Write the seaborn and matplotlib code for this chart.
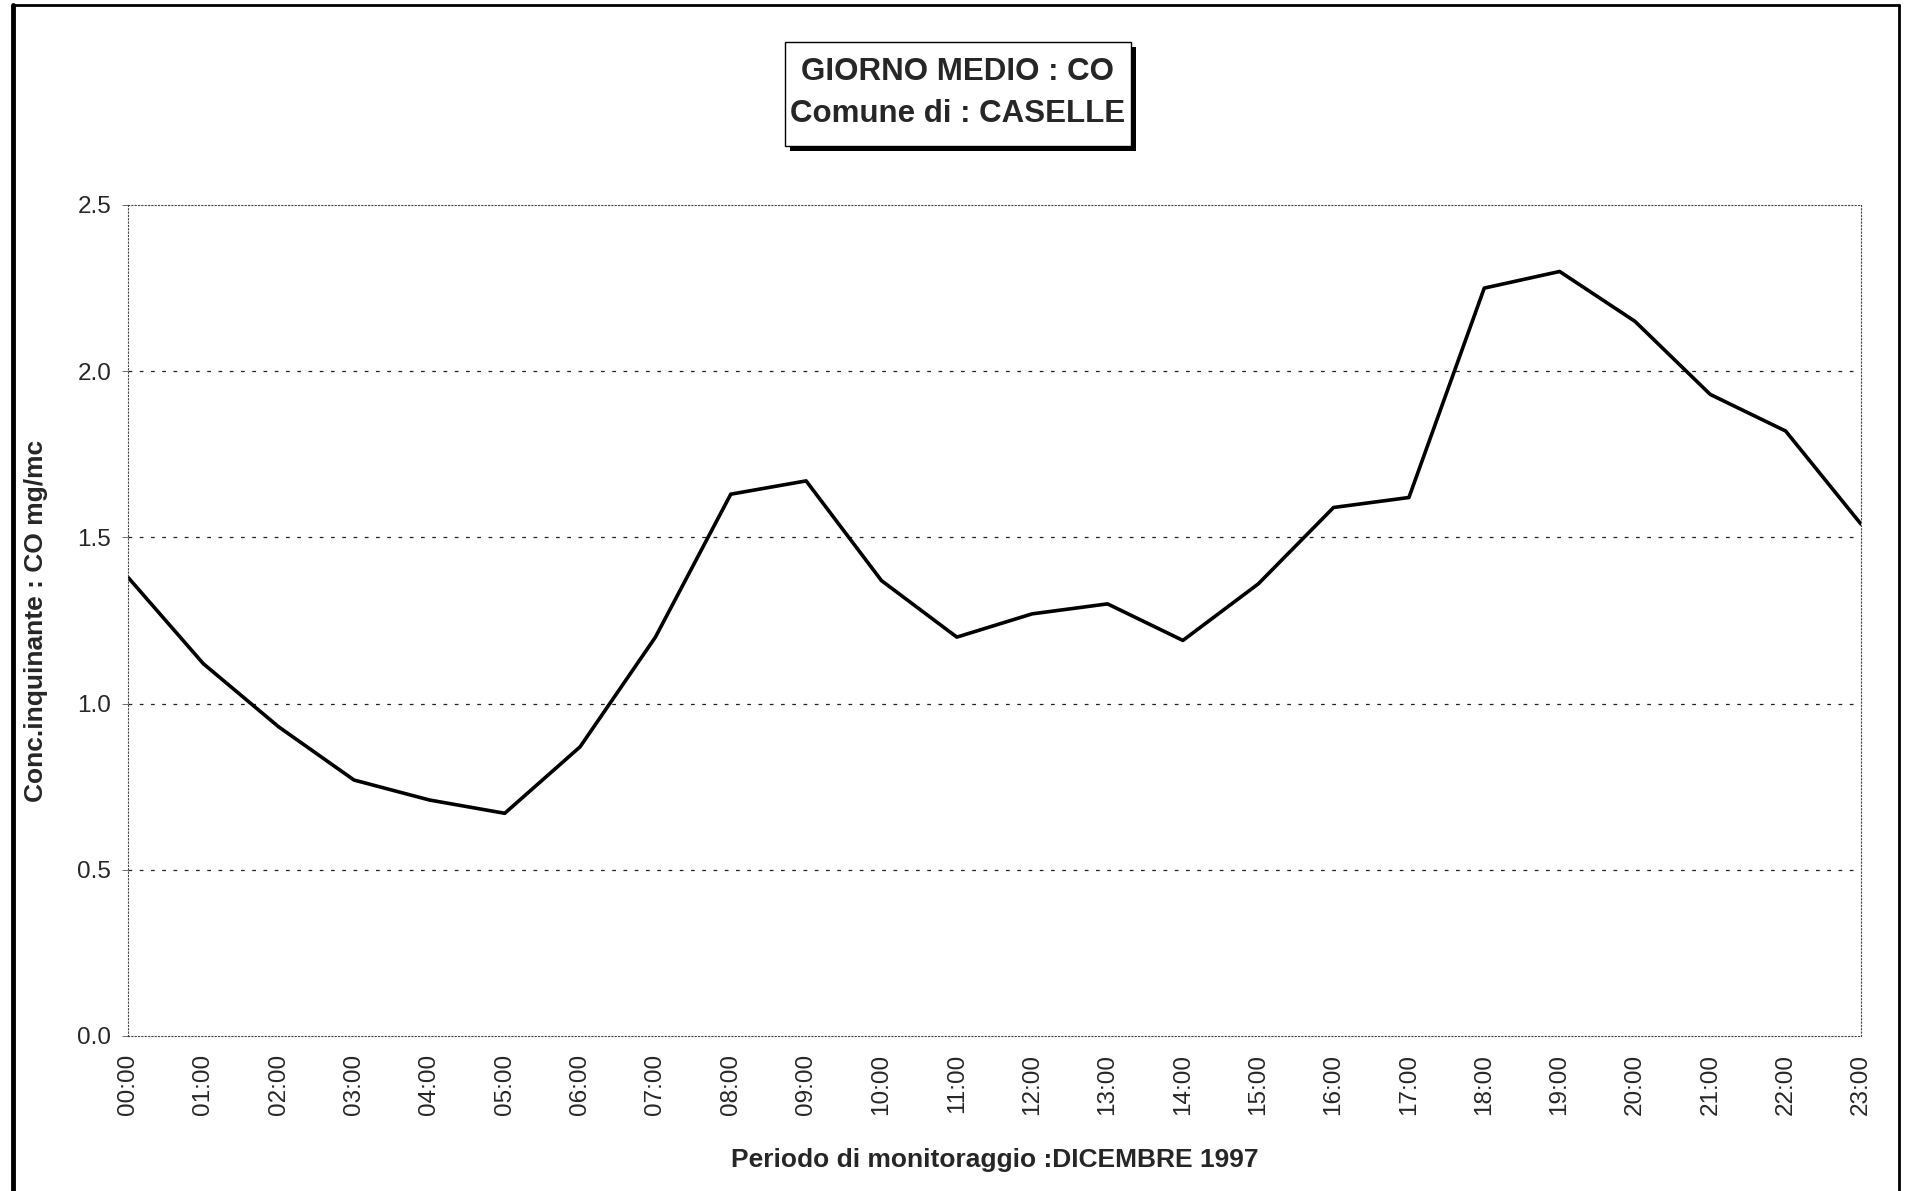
import matplotlib
matplotlib.use("Agg")
import matplotlib.pyplot as plt
from matplotlib.patches import Rectangle
from matplotlib.lines import Line2D
import seaborn as sns
import pandas as pd

# ---- data ----
ore = ["00:00", "01:00", "02:00", "03:00", "04:00", "05:00", "06:00", "07:00",
       "08:00", "09:00", "10:00", "11:00", "12:00", "13:00", "14:00", "15:00",
       "16:00", "17:00", "18:00", "19:00", "20:00", "21:00", "22:00", "23:00"]
conc_co = [1.38, 1.12, 0.93, 0.77, 0.71, 0.67, 0.87, 1.20, 1.63, 1.67, 1.37, 1.20,
           1.27, 1.30, 1.19, 1.36, 1.59, 1.62, 2.25, 2.30, 2.15, 1.93, 1.82, 1.54]
y_ticks = [0.0, 0.5, 1.0, 1.5, 2.0, 2.5]
y_ticklabels = ["0.0", "0.5", "1.0", "1.5", "2.0", "2.5"]
titolo = "GIORNO MEDIO : CO\nComune di : CASELLE"
ylab = "Conc.inquinante : CO mg/mc"
xlab = "Periodo di monitoraggio :DICEMBRE 1997"

sns.set_theme(style="white")
plt.rcParams["font.family"] = ["Liberation Sans", "DejaVu Sans"]

W, H = 1905, 1191
fig = plt.figure(figsize=(W / 100, H / 100), dpi=100)
fig.patch.set_facecolor("white")

L, R, T, B = 128, 1861, 205, 1036
ax = fig.add_axes([L / W, 1 - B / H, (R - L) / W, (B - T) / H])
ax.set_facecolor("white")

df = pd.DataFrame({"ora": ore, "conc": conc_co})
sns.lineplot(data=df, x="ora", y="conc", ax=ax, color="black", lw=2.6, sort=False)

ax.set_xlim(0, len(ore) - 1)
ax.set_ylim(0, 2.5)
ax.set_yticks(y_ticks)
ax.set_yticklabels(y_ticklabels)
ax.set_xticks(range(len(ore)))
ax.set_xticklabels(ore, rotation=90)
ax.tick_params(axis="y", labelsize=17.5, length=4, width=0.6, color="#555555", pad=8, left=True)
ax.tick_params(axis="x", labelsize=17.5, length=0, pad=13)

for yv in y_ticks[1:-1]:
    ax.axhline(yv, color="#222222", lw=0.9, linestyle=(0, (3, 6)), zorder=0)
for s in ax.spines.values():
    s.set_visible(True)
    s.set_color("#444444")
    s.set_linewidth(0.8)
    s.set_linestyle((0, (1, 2)))

ax.set_ylabel(ylab, fontsize=19, fontweight="bold")
ax.yaxis.set_label_coords(-0.046, 0.5)
ax.set_xlabel(xlab, fontsize=19, fontweight="bold")
ax.xaxis.set_label_coords(0.5, -0.135)

# ---- title box with shadow ----
bx0, bx1, by0, by1 = 785, 1131, 42, 146
sh = 5
fig.add_artist(Rectangle(((bx0 + sh) / W, 1 - (by1 + sh) / H), (bx1 - bx0) / W, (by1 - by0) / H,
                         transform=fig.transFigure, facecolor="black", edgecolor="black", lw=0))
fig.add_artist(Rectangle((bx0 / W, 1 - by1 / H), (bx1 - bx0) / W, (by1 - by0) / H,
                         transform=fig.transFigure, facecolor="white", edgecolor="black", lw=1.0))
fig.text(958 / W, 1 - 93 / H, titolo, ha="center", va="center", fontsize=22.5,
         fontweight="bold", linespacing=1.5)

# ---- outer frame ----
fig.add_artist(Line2D([13 / W, 13 / W], [1 - 5 / H, 0], transform=fig.transFigure, color="black", lw=3.5))
fig.add_artist(Line2D([13 / W, 1899 / W], [1 - 5 / H, 1 - 5 / H], transform=fig.transFigure, color="black", lw=2))
fig.add_artist(Line2D([1899 / W, 1899 / W], [1 - 5 / H, 0], transform=fig.transFigure, color="black", lw=2))

fig.savefig("out.png", dpi=100, facecolor="white")
